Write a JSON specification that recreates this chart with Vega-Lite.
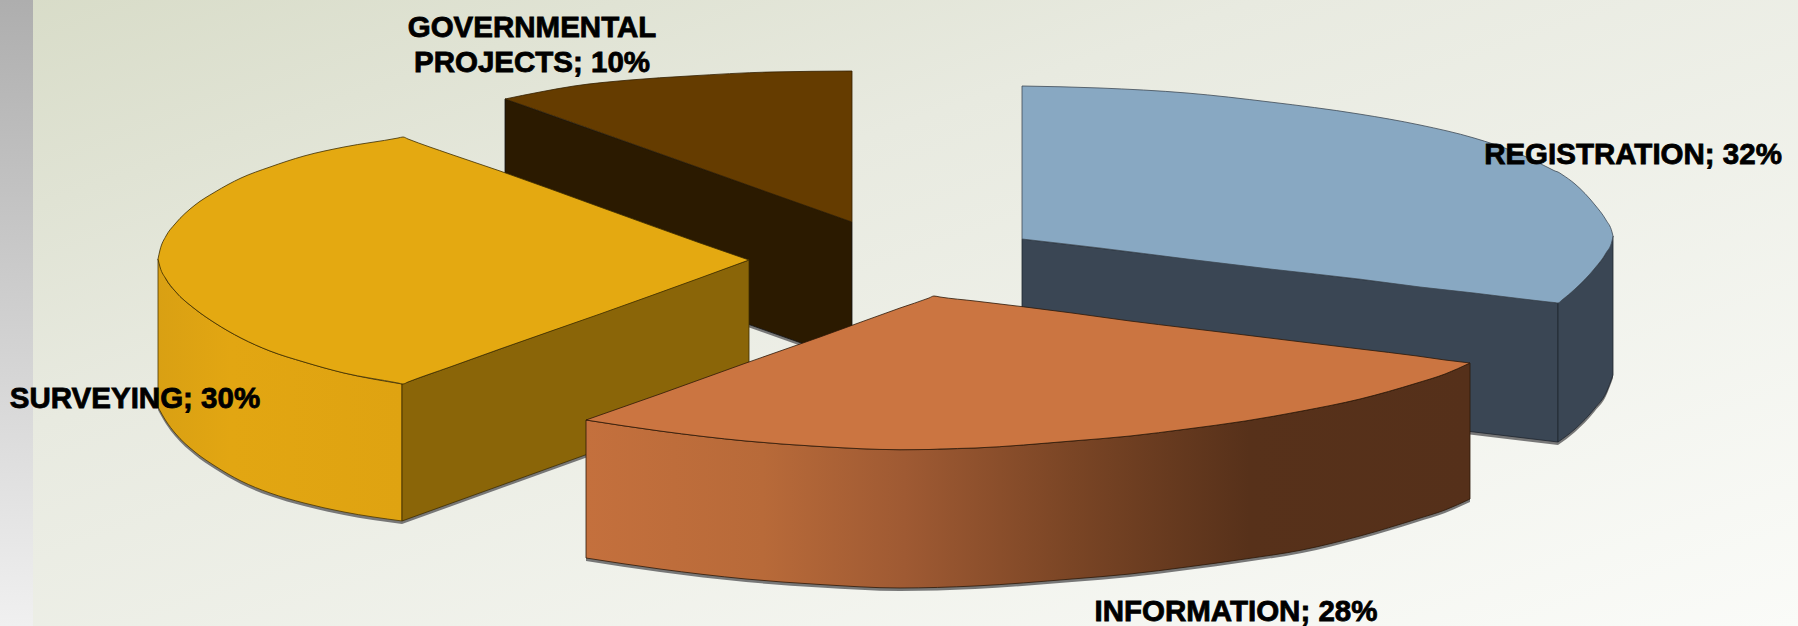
{"$schema":"https://vega.github.io/schema/vega-lite/v6.json","width":1798,"height":626,"padding":0,"autosize":{"type":"none"},"background":"#eef0e8","config":{"view":{"stroke":null}},
"datasets":{"faces":[
{"face":"gov_side","x":505,"top":99,"bottom":238},{"face":"gov_side","x":852,"top":222,"bottom":361},
{"face":"gov_top","x":505,"top":99,"bottom":99},{"face":"gov_top","x":540,"top":92,"bottom":111},{"face":"gov_top","x":574,"top":86,"bottom":123},{"face":"gov_top","x":630,"top":80,"bottom":143},{"face":"gov_top","x":689,"top":76,"bottom":164},{"face":"gov_top","x":770,"top":72,"bottom":193},{"face":"gov_top","x":852,"top":71,"bottom":222},
{"face":"blue_inner","x":1022,"top":239,"bottom":378},{"face":"blue_inner","x":1558,"top":303,"bottom":442},
{"face":"blue_outer","x":1558,"top":303,"bottom":442},{"face":"blue_outer","x":1575,"top":289,"bottom":429},{"face":"blue_outer","x":1595,"top":268,"bottom":408},{"face":"blue_outer","x":1606,"top":253,"bottom":393},{"face":"blue_outer","x":1613,"top":236,"bottom":375},
{"face":"blue_top","x":1022,"top":86,"bottom":239},{"face":"blue_top","x":1100,"top":88,"bottom":248},{"face":"blue_top","x":1187,"top":93,"bottom":259},{"face":"blue_top","x":1270,"top":102,"bottom":269},{"face":"blue_top","x":1359,"top":114,"bottom":279},{"face":"blue_top","x":1420,"top":125,"bottom":287},{"face":"blue_top","x":1474,"top":138,"bottom":293},{"face":"blue_top","x":1515,"top":152,"bottom":298},{"face":"blue_top","x":1549,"top":168,"bottom":302},{"face":"blue_top","x":1555,"top":171,"bottom":302.6},{"face":"blue_top","x":1558,"top":172,"bottom":303},{"face":"blue_top","x":1562,"top":174.5,"bottom":300},{"face":"blue_top","x":1575,"top":184,"bottom":289},{"face":"blue_top","x":1595,"top":205,"bottom":268},{"face":"blue_top","x":1606,"top":220,"bottom":253},{"face":"blue_top","x":1612,"top":232,"bottom":241},{"face":"blue_top","x":1613,"top":236,"bottom":236},
{"face":"yellow_outer","x":158,"top":259,"bottom":407},{"face":"yellow_outer","x":166,"top":279,"bottom":421},{"face":"yellow_outer","x":175,"top":291,"bottom":433},{"face":"yellow_outer","x":195,"top":309,"bottom":452},{"face":"yellow_outer","x":215,"top":323,"bottom":466},{"face":"yellow_outer","x":241,"top":338,"bottom":481},{"face":"yellow_outer","x":270,"top":351,"bottom":493},{"face":"yellow_outer","x":304,"top":362,"bottom":503},{"face":"yellow_outer","x":344,"top":373,"bottom":512},{"face":"yellow_outer","x":402,"top":384,"bottom":521},
{"face":"yellow_inner","x":402,"top":384,"bottom":521},{"face":"yellow_inner","x":749,"top":260,"bottom":396},
{"face":"yellow_top","x":158,"top":259,"bottom":259},{"face":"yellow_top","x":160,"top":250,"bottom":267},{"face":"yellow_top","x":166,"top":236,"bottom":279},{"face":"yellow_top","x":175,"top":224,"bottom":291},{"face":"yellow_top","x":195,"top":205,"bottom":309},{"face":"yellow_top","x":215,"top":192,"bottom":323},{"face":"yellow_top","x":241,"top":178,"bottom":338},{"face":"yellow_top","x":270,"top":167,"bottom":351},{"face":"yellow_top","x":304,"top":156,"bottom":362},{"face":"yellow_top","x":344,"top":147,"bottom":373},{"face":"yellow_top","x":398,"top":138,"bottom":383},{"face":"yellow_top","x":403,"top":137,"bottom":384},{"face":"yellow_top","x":408,"top":139,"bottom":382},{"face":"yellow_top","x":450,"top":154,"bottom":367},{"face":"yellow_top","x":500,"top":171,"bottom":349},{"face":"yellow_top","x":600,"top":207,"bottom":314},{"face":"yellow_top","x":700,"top":243,"bottom":278},{"face":"yellow_top","x":749,"top":260,"bottom":260},
{"face":"orange_side","x":586,"top":420,"bottom":558},{"face":"orange_side","x":660,"top":431,"bottom":569},{"face":"orange_side","x":746,"top":441,"bottom":579},{"face":"orange_side","x":820,"top":446.5,"bottom":584.5},{"face":"orange_side","x":900,"top":449.7,"bottom":588},{"face":"orange_side","x":975,"top":448,"bottom":586},{"face":"orange_side","x":1072,"top":441,"bottom":579},{"face":"orange_side","x":1130,"top":436,"bottom":574},{"face":"orange_side","x":1187,"top":429,"bottom":567},{"face":"orange_side","x":1245,"top":421,"bottom":559},{"face":"orange_side","x":1302,"top":411,"bottom":550},{"face":"orange_side","x":1360,"top":399,"bottom":536},{"face":"orange_side","x":1417,"top":383,"bottom":519},{"face":"orange_side","x":1445,"top":374,"bottom":510},{"face":"orange_side","x":1470,"top":363,"bottom":499},
{"face":"orange_top","x":586,"top":420,"bottom":420},{"face":"orange_top","x":660,"top":394,"bottom":431},{"face":"orange_top","x":746,"top":363,"bottom":441},{"face":"orange_top","x":820,"top":337,"bottom":446.5},{"face":"orange_top","x":900,"top":308,"bottom":449.7},{"face":"orange_top","x":929,"top":298,"bottom":449.5},{"face":"orange_top","x":934,"top":296,"bottom":449.3},{"face":"orange_top","x":940,"top":297,"bottom":449},{"face":"orange_top","x":975,"top":301,"bottom":448},{"face":"orange_top","x":1072,"top":313,"bottom":441},{"face":"orange_top","x":1130,"top":321,"bottom":436},{"face":"orange_top","x":1187,"top":328,"bottom":429},{"face":"orange_top","x":1245,"top":335,"bottom":421},{"face":"orange_top","x":1302,"top":342,"bottom":411},{"face":"orange_top","x":1360,"top":349,"bottom":399},{"face":"orange_top","x":1417,"top":356,"bottom":383},{"face":"orange_top","x":1445,"top":360,"bottom":374},{"face":"orange_top","x":1470,"top":363,"bottom":363}
]},
"data":{"name":"faces"},
"encoding":{"x":{"field":"x","type":"quantitative","scale":{"domain":[0,1798],"nice":false,"zero":false},"axis":null},"y":{"field":"top","type":"quantitative","scale":{"domain":[626,0],"nice":false,"zero":false},"axis":null},"y2":{"field":"bottom"}},
"layer":[
{"data":{"values":[{"x":0,"x2":1798,"top":0,"bottom":626}]},"mark":{"type":"rect","color":{"gradient":"linear","x1":0,"y1":0,"x2":1,"y2":1,"stops":[{"offset":0,"color":"#d8dcc8"},{"offset":0.35,"color":"#e8eae0"},{"offset":1,"color":"#fafbf8"}]}},"encoding":{"x2":{"field":"x2"}}},
{"data":{"values":[{"x":0,"x2":33,"top":0,"bottom":626}]},"mark":{"type":"rect","color":{"gradient":"linear","x1":0,"y1":0,"x2":0,"y2":1,"stops":[{"offset":0,"color":"#aeaeae"},{"offset":1,"color":"#f0f0f0"}]}},"encoding":{"x2":{"field":"x2"}}},
{"transform":[{"filter":"datum.face==='gov_side'"}],"mark":{"type":"area","color":"#777777","y2Offset":3}},
{"transform":[{"filter":"datum.face==='gov_side'"}],"mark":{"type":"area","color":"#2b1a00","stroke":"#111111","strokeWidth":0.8}},
{"transform":[{"filter":"datum.face==='gov_top'"}],"mark":{"type":"area","interpolate":"monotone","color":"#653c00","stroke":"#332000","strokeWidth":0.8}},
{"transform":[{"filter":"datum.face==='blue_inner'"}],"mark":{"type":"area","color":"#777777","y2Offset":3}},
{"transform":[{"filter":"datum.face==='blue_outer'"}],"mark":{"type":"area","interpolate":"monotone","color":"#777777","y2Offset":3}},
{"transform":[{"filter":"datum.face==='blue_inner'"}],"mark":{"type":"area","color":"#3a4654","stroke":"#20262e","strokeWidth":0.8}},
{"transform":[{"filter":"datum.face==='blue_outer'"}],"mark":{"type":"area","interpolate":"monotone","color":"#3a4654","stroke":"#20262e","strokeWidth":0.8}},
{"transform":[{"filter":"datum.face==='blue_top'"}],"mark":{"type":"area","interpolate":"monotone","color":"#88a8c2","stroke":"#3f4a55","strokeWidth":0.8}},
{"transform":[{"filter":"datum.face==='yellow_outer'"}],"mark":{"type":"area","interpolate":"monotone","color":"#777777","y2Offset":3}},
{"transform":[{"filter":"datum.face==='yellow_inner'"}],"mark":{"type":"area","color":"#777777","y2Offset":3}},
{"transform":[{"filter":"datum.face==='yellow_outer'"}],"mark":{"type":"area","interpolate":"monotone","color":{"gradient":"linear","x1":0,"y1":0,"x2":1,"y2":0,"stops":[{"offset":0,"color":"#d9a013"},{"offset":0.3,"color":"#e2a612"},{"offset":1,"color":"#dfa311"}]},"stroke":"#4a3500","strokeWidth":0.8}},
{"transform":[{"filter":"datum.face==='yellow_inner'"}],"mark":{"type":"area","color":"#8a6508","stroke":"#3c2c00","strokeWidth":0.8}},
{"transform":[{"filter":"datum.face==='yellow_top'"}],"mark":{"type":"area","interpolate":"monotone","color":"#e4a911","stroke":"#3c2c00","strokeWidth":0.8}},
{"transform":[{"filter":"datum.face==='orange_side'"}],"mark":{"type":"area","interpolate":"monotone","color":"#777777","y2Offset":3}},
{"transform":[{"filter":"datum.face==='orange_side'"}],"mark":{"type":"area","interpolate":"monotone","color":{"gradient":"linear","x1":0,"y1":0,"x2":1,"y2":0,"stops":[{"offset":0,"color":"#c4703d"},{"offset":0.2,"color":"#b86a39"},{"offset":0.36,"color":"#9f5a33"},{"offset":0.55,"color":"#7a4525"},{"offset":0.75,"color":"#57311a"},{"offset":1,"color":"#55301a"}]},"stroke":"#2c1808","strokeWidth":0.8}},
{"transform":[{"filter":"datum.face==='orange_top'"}],"mark":{"type":"area","interpolate":"monotone","color":"#cb7541","stroke":"#2c1808","strokeWidth":0.8}},
{"data":{"values":[{"label":"GOVERNMENTAL","x":532,"top":37},{"label":"PROJECTS; 10%","x":532,"top":72},{"label":"SURVEYING; 30%","x":135,"top":408},{"label":"REGISTRATION; 32%","x":1633,"top":164},{"label":"INFORMATION; 28%","x":1236,"top":621}]},
"mark":{"type":"text","font":"Liberation Sans","fontWeight":"bold","fontSize":29.5,"align":"center","baseline":"alphabetic","color":"#000000","stroke":"#000000","strokeWidth":0.8},
"encoding":{"text":{"field":"label"},"y2":null}}
]}
